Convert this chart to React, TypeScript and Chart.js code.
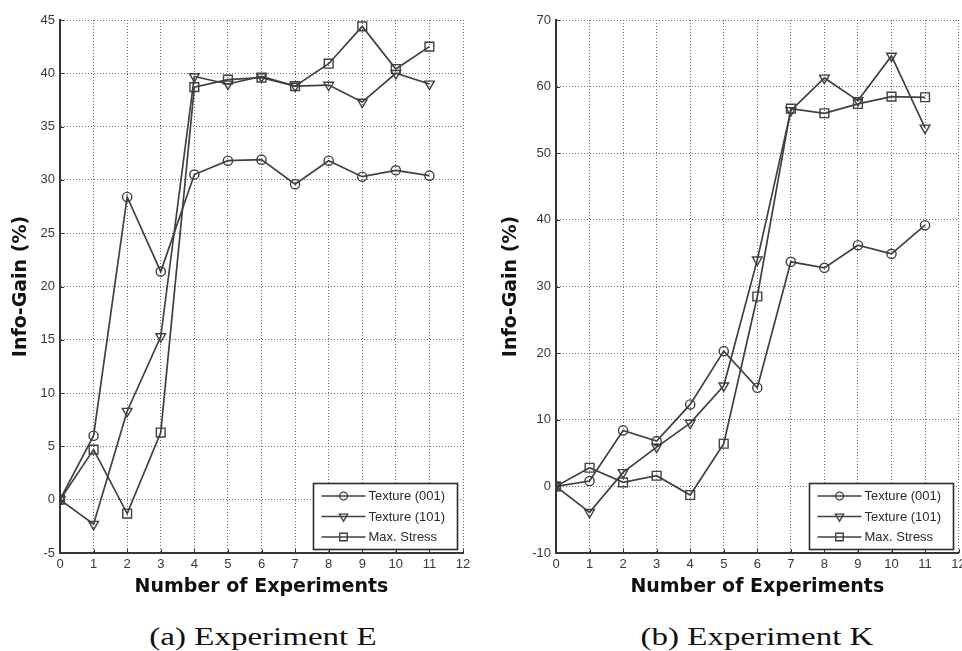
import React, { useEffect, useRef } from 'react';
import { Chart, registerables } from 'chart.js';

Chart.register(...registerables);

// ---------- data ----------
const experiments = [0, 1, 2, 3, 4, 5, 6, 7, 8, 9, 10, 11];
const seriesNames = ['Texture (001)', 'Texture (101)', 'Max. Stress'];

// Experiment E
const eTexture001 = [0, 6.0, 28.4, 21.4, 30.5, 31.8, 31.9, 29.6, 31.8, 30.3, 30.9, 30.4];
const eTexture101 = [0, -2.3, 8.3, 15.3, 39.7, 39.0, 39.7, 38.8, 38.9, 37.3, 40.0, 39.0];
const eMaxStress = [0, 4.7, -1.3, 6.3, 38.7, 39.4, 39.6, 38.8, 40.9, 44.4, 40.4, 42.5];

// Experiment K
const kTexture001 = [0, 0.8, 8.4, 6.8, 12.3, 20.3, 14.8, 33.7, 32.8, 36.2, 34.9, 39.2];
const kTexture101 = [0, -3.9, 2.1, 5.9, 9.5, 15.1, 34.0, 56.4, 61.3, 57.9, 64.6, 53.8];
const kMaxStress = [0, 2.8, 0.6, 1.6, -1.3, 6.4, 28.5, 56.7, 56.0, 57.4, 58.5, 58.4];

const xTicks = [0, 1, 2, 3, 4, 5, 6, 7, 8, 9, 10, 11, 12];
const yTicksE = [-5, 0, 5, 10, 15, 20, 25, 30, 35, 40, 45];
const yTicksK = [-10, 0, 10, 20, 30, 40, 50, 60, 70];

const xTitle = 'Number of Experiments';
const yTitle = 'Info-Gain (%)';
const captionE = '(a) Experiment E';
const captionK = '(b) Experiment K';

// ---------- styles ----------
const LINE = '#404040';
const AXIS = '#363636';
const GRID = '#6e6e6e';
const TICK_COLOR = '#383838';
const SANS = '"Liberation Sans", Arial, sans-serif';
const TITLE_FONT = '"DejaVu Sans", sans-serif';
const POINT_STYLES = ['circle', 'triangle', 'rect'];
const POINT_RADII = [4.6, 5.6, 6.2];
const POINT_ROT = [0, 180, 0];

function drawMarker(ctx: CanvasRenderingContext2D, style: string, x: number, y: number, r: number) {
  ctx.beginPath();
  if (style === 'circle') {
    ctx.arc(x, y, r, 0, Math.PI * 2);
  } else if (style === 'triangle') {
    for (let k = 0; k < 3; k++) {
      const a = Math.PI + k * (2 * Math.PI / 3);
      const px = x + Math.sin(a) * r;
      const py = y - Math.cos(a) * r;
      if (k === 0) ctx.moveTo(px, py); else ctx.lineTo(px, py);
    }
    ctx.closePath();
  } else {
    const s = r * Math.SQRT1_2;
    ctx.rect(x - s, y - s, 2 * s, 2 * s);
  }
  ctx.stroke();
}

const matlabPlugin = {
  id: 'matlab',
  afterDatasetsDraw(chart: any) {
    const { ctx, chartArea: ca, scales } = chart;
    const xs = scales.x;
    const ys = scales.y;
    ctx.save();
    // inward tick marks
    ctx.strokeStyle = AXIS;
    ctx.lineWidth = 1;
    xs.ticks.forEach((t: any) => {
      const px = Math.round(xs.getPixelForValue(t.value)) + 0.5;
      ctx.beginPath();
      ctx.moveTo(px, ca.bottom);
      ctx.lineTo(px, ca.bottom - 4);
      ctx.stroke();
    });
    ys.ticks.forEach((t: any) => {
      const py = Math.round(ys.getPixelForValue(t.value)) + 0.5;
      ctx.beginPath();
      ctx.moveTo(ca.left, py);
      ctx.lineTo(ca.left + 4, py);
      ctx.stroke();
    });
    // legend box (bottom right, inside plot)
    const w = 144;
    const h = 66;
    const bx = Math.round(ca.right - 6 - w) + 0.5;
    const by = Math.round(ca.bottom - 4.5 - h) + 0.5;
    ctx.fillStyle = '#ffffff';
    ctx.fillRect(bx, by, w, h);
    ctx.strokeStyle = '#2a2a2a';
    ctx.lineWidth = 1.6;
    ctx.strokeRect(bx, by, w, h);
    chart.data.datasets.forEach((ds: any, i: number) => {
      const y = by + 12.5 + i * 20.5;
      ctx.strokeStyle = LINE;
      ctx.lineWidth = 1.6;
      ctx.beginPath();
      ctx.moveTo(bx + 8, y);
      ctx.lineTo(bx + 52, y);
      ctx.stroke();
      ctx.lineWidth = 1.4;
      drawMarker(ctx, POINT_STYLES[i], bx + 30, y, POINT_RADII[i] * 0.85);
      ctx.fillStyle = '#2a2a2a';
      ctx.font = `13px ${SANS}`;
      ctx.textBaseline = 'middle';
      ctx.textAlign = 'left';
      ctx.fillText(ds.label, bx + 55, y + 0.5);
    });
    ctx.restore();
  },
};

type PanelProps = {
  left: number;
  width: number;
  yAxisWidth: number;
  rightPad: number;
  yTitlePad: number;
  series: number[][];
  yTicks: number[];
};

function Panel({ left, width, yAxisWidth, rightPad, yTitlePad, series, yTicks }: PanelProps) {
  const ref = useRef<HTMLCanvasElement | null>(null);
  useEffect(() => {
    if (!ref.current) return;
    const chart = new Chart(ref.current, {
      type: 'line',
      data: {
        datasets: series.map((vals, i) => ({
          label: seriesNames[i],
          data: experiments.map((x, j) => ({ x, y: vals[j] })),
          borderColor: LINE,
          borderWidth: 1.7,
          pointStyle: POINT_STYLES[i] as any,
          pointRadius: POINT_RADII[i],
          pointRotation: POINT_ROT[i],
          pointBorderColor: LINE,
          pointBackgroundColor: 'rgba(0,0,0,0)',
          pointBorderWidth: 1.4,
          tension: 0,
          fill: false,
        })),
      },
      options: {
        animation: false,
        responsive: false,
        devicePixelRatio: 1,
        layout: { padding: { left: 0, top: 20, right: rightPad, bottom: 0 } },
        plugins: {
          legend: { display: false },
          tooltip: { enabled: false },
        },
        scales: {
          x: {
            type: 'linear',
            min: xTicks[0],
            max: xTicks[xTicks.length - 1],
            afterBuildTicks: (s: any) => {
              s.ticks = xTicks.map((v) => ({ value: v }));
            },
            afterFit: (s: any) => {
              s.height = 57;
            },
            grid: { color: GRID, lineWidth: 1, drawTicks: false },
            border: { display: true, color: AXIS, width: 2, dash: [1, 2] },
            ticks: {
              padding: 4,
              color: TICK_COLOR,
              font: { family: SANS, size: 13 },
              maxRotation: 0,
              autoSkip: false,
            },
            title: {
              display: true,
              text: xTitle,
              color: '#111',
              font: { family: TITLE_FONT, size: 19, weight: 'bold' },
              padding: { top: 0, bottom: 12 },
            },
          },
          y: {
            type: 'linear',
            min: yTicks[0],
            max: yTicks[yTicks.length - 1],
            afterBuildTicks: (s: any) => {
              s.ticks = yTicks.map((v) => ({ value: v }));
            },
            afterFit: (s: any) => {
              s.width = yAxisWidth;
            },
            grid: { color: GRID, lineWidth: 1, drawTicks: false },
            border: { display: true, color: AXIS, width: 2, dash: [1, 2] },
            ticks: {
              padding: 5,
              color: TICK_COLOR,
              font: { family: SANS, size: 13 },
              autoSkip: false,
            },
            title: {
              display: true,
              text: yTitle,
              color: '#111',
              font: { family: TITLE_FONT, size: 19, weight: 'bold' },
              padding: { top: yTitlePad, bottom: 0 },
            },
          },
        },
      } as any,
      plugins: [matlabPlugin],
    });
    return () => chart.destroy();
  }, []);
  return (
    <canvas
      ref={ref}
      width={width}
      height={610}
      style={{ position: 'absolute', left, top: 0, width, height: 610 }}
    />
  );
}

function Caption({ text, center }: { text: string; center: number }) {
  return (
    <div
      style={{
        position: 'absolute',
        left: center - 200,
        top: 624,
        width: 400,
        textAlign: 'center',
        fontFamily: '"Liberation Serif", "Times New Roman", serif',
        fontSize: 26,
        lineHeight: '26px',
        color: '#111',
        transform: 'scaleX(1.27)',
        transformOrigin: 'center',
        whiteSpace: 'nowrap',
      }}
    >
      {text}
    </div>
  );
}

export default function App() {
  return (
    <div
      style={{
        position: 'absolute',
        left: 0,
        top: 0,
        width: 962,
        height: 651,
        overflow: 'hidden',
        background: '#fff',
      }}
    >
      <Panel
        left={0}
        width={481}
        yAxisWidth={60}
        rightPad={18}
        yTitlePad={10}
        series={[eTexture001, eTexture101, eMaxStress]}
        yTicks={yTicksE}
      />
      <Panel
        left={481}
        width={500}
        yAxisWidth={75}
        rightPad={22.4}
        yTitlePad={18.6}
        series={[kTexture001, kTexture101, kMaxStress]}
        yTicks={yTicksK}
      />
      <Caption text={captionE} center={263} />
      <Caption text={captionK} center={757} />
    </div>
  );
}
